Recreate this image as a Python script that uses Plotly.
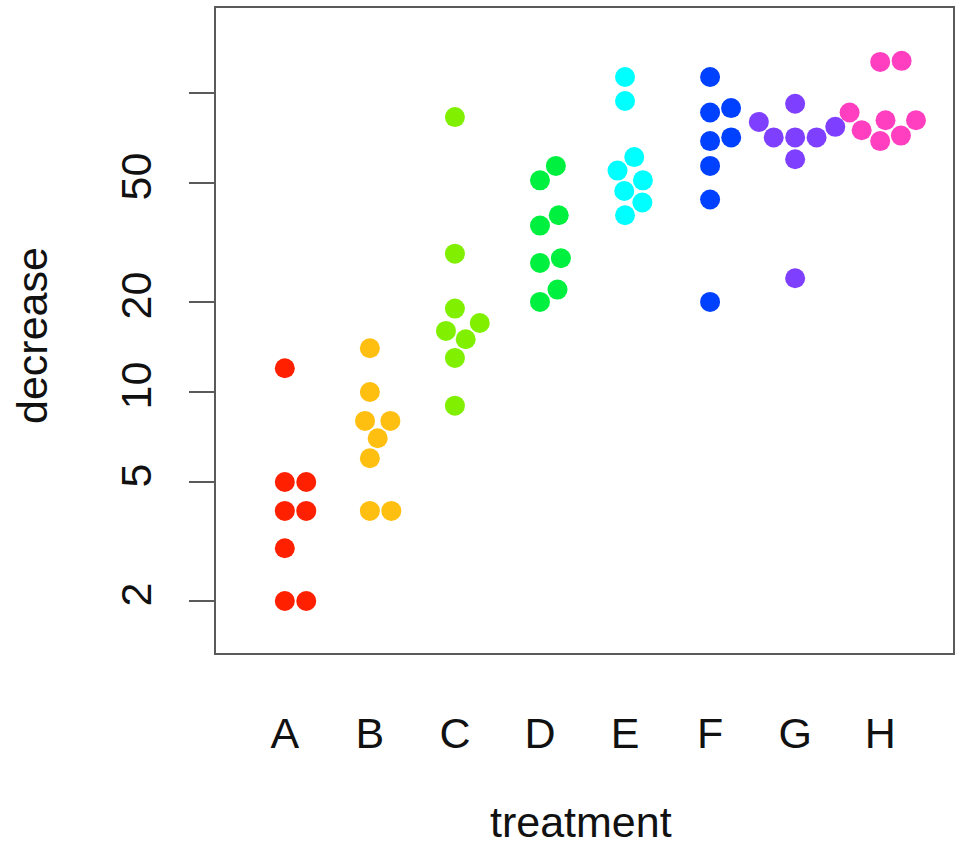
import numpy as np
import plotly.graph_objects as go

# OrchardSprays-style data: decrease in volume of sucrose solution per treatment
treatments = ["A", "B", "C", "D", "E", "F", "G", "H"]
decrease_A = [2, 2, 3, 4, 4, 5, 5, 12]
decrease_B = [4, 4, 6, 7, 8, 8, 10, 14]
decrease_C = [9, 13, 15, 16, 17, 19, 29, 83]
decrease_D = [20, 22, 27, 28, 36, 39, 51, 57]
decrease_E = [39, 43, 47, 51, 55, 61, 94, 113]
decrease_F = [20, 44, 57, 69, 71, 86, 89, 113]
decrease_G = [24, 60, 71, 71, 71, 77, 80, 92]
decrease_H = [69, 72, 75, 81, 81, 86, 127, 128]
groups = [decrease_A, decrease_B, decrease_C, decrease_D,
          decrease_E, decrease_F, decrease_G, decrease_H]

# rainbow(8)-like palette
colors = ["#FF2000", "#FFBF10", "#80F000", "#00F040",
          "#00FFFF", "#0040FF", "#7F3FFF", "#FF3FC0"]

y_tick_vals = [2, 5, 10, 20, 50, 100]
y_tick_text = ["2", "5", "10", "20", "50", ""]

W, H = 958, 851
MARGIN = dict(l=216, r=3, t=8, b=198)
X_RANGE = [0.191, 8.856]
Y_RANGE = [0.127, 2.284]  # log10 units

plot_w = W - MARGIN["l"] - MARGIN["r"]
plot_h = H - MARGIN["t"] - MARGIN["b"]
px_per_x = plot_w / (X_RANGE[1] - X_RANGE[0])
px_per_decade = plot_h / (Y_RANGE[1] - Y_RANGE[0])
SPACING = 21.5  # minimum distance between dot centres, in pixels


def swarm_offsets(values):
    """Beeswarm ('swarm' method): place points in ascending order, each as
    close to the centre line as possible without overlapping earlier ones."""
    ys = np.log10(np.asarray(values, dtype=float)) * px_per_decade
    order = np.argsort(ys, kind="stable")
    placed = []
    offs = np.zeros(len(values))
    for i in order:
        y = ys[i]
        cands = [0.0]
        for px_, py_ in placed:
            dy = abs(y - py_)
            if dy < SPACING:
                dx = np.sqrt(SPACING ** 2 - dy ** 2)
                cands += [px_ + dx, px_ - dx]
        cands.sort(key=lambda c: (round(abs(c), 6), -c))
        chosen = cands[-1]
        for c in cands:
            ok = all(
                abs(c - px_) >= np.sqrt(max(SPACING ** 2 - (y - py_) ** 2, 0.0)) - 1e-6
                for px_, py_ in placed
            )
            if ok:
                chosen = c
                break
        offs[i] = chosen
        placed.append((chosen, y))
    return offs / px_per_x


fig = go.Figure()
for k, (name, vals, col) in enumerate(zip(treatments, groups, colors)):
    xs = (k + 1) + swarm_offsets(vals)
    fig.add_trace(go.Scatter(
        x=xs, y=vals, mode="markers", name=name,
        marker=dict(color=col, size=20, line=dict(width=0)),
        showlegend=False,
    ))

FONT = dict(family="Liberation Sans, Arial, sans-serif", size=43, color="#111111")
FRAME = "#5a5a5a"

fig.update_layout(
    width=W, height=H,
    margin=MARGIN,
    paper_bgcolor="white", plot_bgcolor="white",
    font=FONT,
    xaxis=dict(
        range=X_RANGE, tickmode="array",
        tickvals=list(range(1, len(treatments) + 1)), ticktext=treatments,
        ticks="", showgrid=False, zeroline=False,
        showline=True, mirror=True, linecolor=FRAME, linewidth=2,
        ticklabelstandoff=41, tickfont=FONT,
    ),
    yaxis=dict(
        type="log", range=Y_RANGE, tickmode="array",
        tickvals=y_tick_vals, ticktext=y_tick_text,
        ticks="outside", ticklen=25, tickwidth=2, tickcolor=FRAME,
        tickangle=-90, showgrid=False, zeroline=False,
        showline=True, mirror=True, linecolor=FRAME, linewidth=2,
        ticklabelstandoff=21, tickfont=FONT,
    ),
    annotations=[
        dict(text="treatment", xref="paper", yref="paper",
             x=(582 - MARGIN["l"]) / plot_w, y=(H - MARGIN["b"] - 822) / plot_h,
             xanchor="center", yanchor="middle", showarrow=False, font=FONT),
        dict(text="decrease", xref="paper", yref="paper", textangle=-90,
             x=(31.5 - MARGIN["l"]) / plot_w, y=(H - MARGIN["b"] - 335) / plot_h,
             xanchor="center", yanchor="middle", showarrow=False, font=FONT),
    ],
)

fig.write_html("out.html")
